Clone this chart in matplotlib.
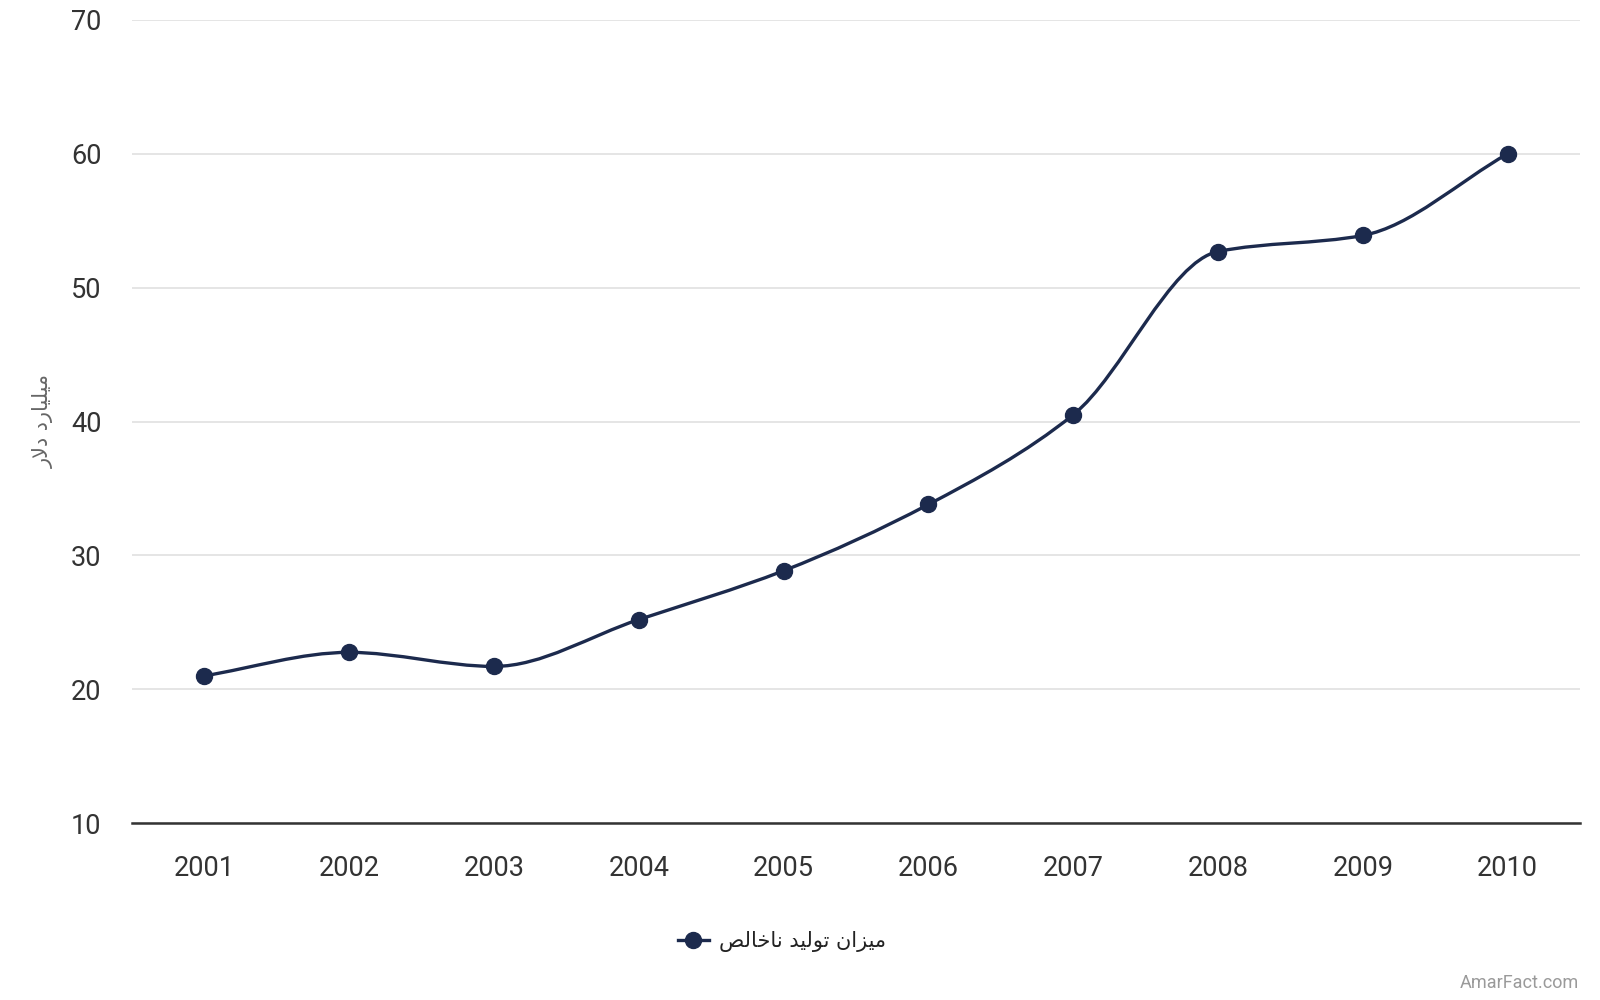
import numpy as np
import matplotlib
matplotlib.use("Agg")
import matplotlib.pyplot as plt
from matplotlib.path import Path
from matplotlib.patches import PathPatch
from matplotlib.lines import Line2D

years = ['2001', '2002', '2003', '2004', '2005', '2006', '2007', '2008', '2009', '2010']
values = [21.0, 22.75, 21.7, 25.2, 28.85, 33.8, 40.5, 52.7, 53.9, 60.0]
y_ticks = [10, 20, 30, 40, 50, 60, 70]

# Persian text, written in shaped presentation forms and visual order
# "میزان تولید ناخالص"
series_name = '\uFEBA\uFEDF\uFE8E\uFEA7\uFE8E\uFEE7 \uFEAA\uFBFF\uFEDF\uFEEE\uFE97 \uFEE5\uFE8D\uFEB0\uFBFF\uFEE3'
# "میلیارد دلار"
y_label = '\uFEAD\uFEFB\uFEA9 \uFEA9\uFEAD\uFE8E\uFBFF\uFEE0\uFBFF\uFEE3'

navy = '#1c2a4d'
text_col = '#333333'

plt.rcParams['font.family'] = ['Roboto', 'DejaVu Sans']

fig = plt.figure(figsize=(16, 10), dpi=100)
ax = fig.add_axes([132 / 1600, 1 - 823 / 1000, 1448 / 1600, 803 / 1000])

x = np.arange(len(values), dtype=float)
y = np.array(values)

# monotone cubic tangents, then Bezier segments through the points
d = np.diff(y) / np.diff(x)
m = np.zeros(len(y))
m[0], m[-1] = d[0], d[-1]
for i in range(1, len(y) - 1):
    if d[i - 1] * d[i] > 0:
        m[i] = 2 * d[i - 1] * d[i] / (d[i - 1] + d[i])
verts = [(x[0], y[0])]
codes = [Path.MOVETO]
for i in range(len(x) - 1):
    h = x[i + 1] - x[i]
    verts += [(x[i] + h / 3, y[i] + m[i] * h / 3),
              (x[i + 1] - h / 3, y[i + 1] - m[i + 1] * h / 3),
              (x[i + 1], y[i + 1])]
    codes += [Path.CURVE4] * 3
ax.add_patch(PathPatch(Path(verts, codes), fill=False, edgecolor=navy, lw=2.4, zorder=3))
ax.plot(x, y, 'o', color=navy, markersize=11.5, zorder=4)

ax.set_xlim(-0.5, len(values) - 0.5)
ax.set_ylim(10, 70)
ax.set_yticks(y_ticks)
ax.set_xticks(x)
ax.set_xticklabels(years)
ax.grid(axis='y', color='#e3e3e3', lw=1.3)
ax.set_axisbelow(True)
for s in ['top', 'right', 'left']:
    ax.spines[s].set_visible(False)
ax.spines['bottom'].set_color('#333333')
ax.spines['bottom'].set_linewidth(1.8)
ax.spines['bottom'].set_zorder(5)
ax.tick_params(axis='both', length=0, labelsize=19.5, colors=text_col)
ax.tick_params(axis='x', pad=23)
ax.tick_params(axis='y', pad=22)

fig.text(43 / 1600, 1 - 421 / 1000, y_label, rotation=90, ha='center', va='center',
         fontsize=15, color='#666666', family=['DejaVu Sans'])

handle = Line2D([0], [0], color=navy, lw=2.4, marker='o', markersize=11.5)
fig.legend([handle], [series_name], loc='center', bbox_to_anchor=(782 / 1600, 1 - 942 / 1000),
           frameon=False, handlelength=1.5, handletextpad=0.5,
           prop={'family': ['DejaVu Sans'], 'size': 15}, labelcolor='#222222')

fig.text(1579 / 1600, 1 - 983 / 1000, 'AmarFact.com', ha='right', va='center',
         fontsize=13, color='#9a9a9a')

fig.savefig('out.png', dpi=100, facecolor='white')
